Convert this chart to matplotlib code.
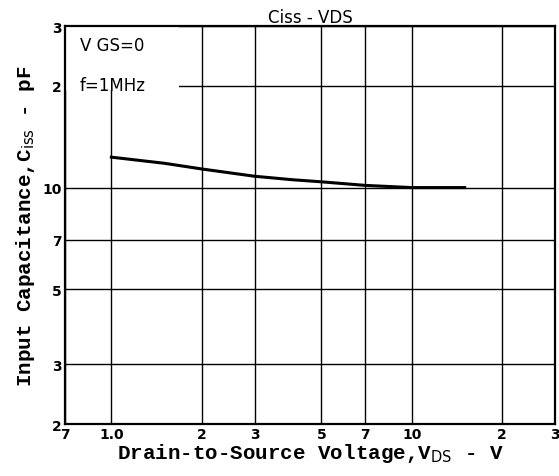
import matplotlib
matplotlib.use("Agg")
import matplotlib.pyplot as plt
from matplotlib.patches import Rectangle

# curve
vds = [1.0, 1.5, 2.0, 3.0, 4.0, 5.0, 7.0, 10.0, 15.0]
ciss = [12.3, 11.8, 11.35, 10.8, 10.55, 10.4, 10.15, 10.0, 10.0]

x_ticks = [0.7, 1, 2, 3, 5, 7, 10, 20, 30]
x_labels = ["7", "1.0", "2", "3", "5", "7", "10", "2", "3"]
y_ticks = [2, 3, 5, 7, 10, 20, 30]
y_labels = ["2", "3", "5", "7", "10", "2", "3"]

mono = "Liberation Mono"

fig = plt.figure(figsize=(5.59, 4.77), dpi=100)
ax = fig.add_axes([0.116, 0.109, 0.877, 0.834])

ax.set_xscale("log")
ax.set_yscale("log")
ax.set_xlim(0.7, 30)
ax.set_ylim(2, 30)

ax.set_xticks(x_ticks)
ax.set_xticklabels(x_labels, fontsize=10, fontweight="bold")
ax.set_yticks(y_ticks)
ax.set_yticklabels(y_labels, fontsize=10, fontweight="bold")
ax.minorticks_off()
ax.tick_params(length=0, pad=2)

ax.set_axisbelow(True)
ax.grid(True, color="black", linewidth=1.0)
for s in ax.spines.values():
    s.set_linewidth(1.6)

ax.plot(vds, ciss, color="black", linewidth=2.2, zorder=3)

# white label area in the upper-left corner
ax.add_patch(Rectangle((0, 0.84), 0.232, 0.16, transform=ax.transAxes,
                       facecolor="white", edgecolor="none", zorder=2))
ax.text(0.03, 0.975, "V GS=0", transform=ax.transAxes, ha="left", va="top",
        fontsize=12, zorder=4)
ax.text(0.03, 0.852, "f=1MHz", transform=ax.transAxes, ha="left", va="center",
        fontsize=12, zorder=4)

ax.set_title("Ciss - VDS", fontsize=12, pad=2)
ax.set_xlabel("Drain-to-Source Voltage,V$_{\\mathrm{DS}}$ - V", fontsize=15,
              family=mono, fontweight="bold", labelpad=0)
ax.set_ylabel("Input Capacitance,C$_{\\mathrm{iss}}$ - pF", fontsize=15,
              family=mono, fontweight="bold", labelpad=4)

fig.savefig("out.png", dpi=100)
